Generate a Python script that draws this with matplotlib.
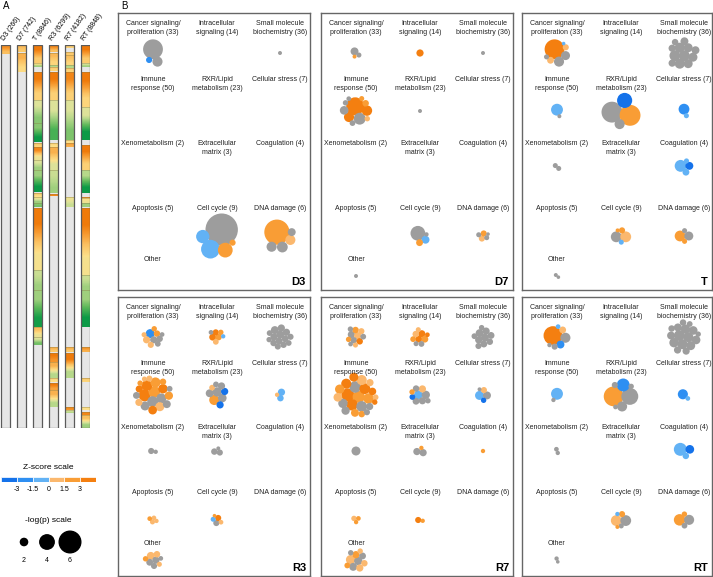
import numpy as np
import matplotlib
matplotlib.use('Agg')
import matplotlib.pyplot as plt
from matplotlib.patches import Circle, Rectangle
from matplotlib.colors import LinearSegmentedColormap

W, H = 713, 577
FONT = ['Liberation Sans Narrow', 'Liberation Sans', 'DejaVu Sans']
plt.rcParams['font.family'] = FONT

# ---------------- Panel A: ranked pathway columns ----------------
col_labels = ['D3 (266)', 'D7 (742)', 'T (8846)', 'R3 (6299)', 'R7 (4182)', 'RT (8848)']
heat_len = 383
# coloured runs: (start rank, end rank, value at start, value at end); 1 = orange, -1 = green, rest grey
heat_D3 = [(0, 9, 0.85, 0.5)]
heat_D7 = [(0, 7, 0.55, 0.4), (8, 27, 0.6, 0.25)]
heat_T = [(0, 18, 1.0, 0.4), (18, 22, 0.2, -0.3), (27, 55, 1.0, 0.35), (55, 78, 0.0, -0.4),
          (78, 97, -0.4, -1.0), (98, 102, 0.45, 0.3), (102, 115, 0.9, 0.1), (115, 125, 0.0, -0.3),
          (125, 147, -0.3, -1.0), (148, 152, 0.4, 0.2), (152, 158, 0.1, -0.3), (158, 162, -0.4, -0.5),
          (163, 225, 1.0, 0.15), (225, 245, -0.1, -0.3), (245, 282, -0.3, -0.95),
          (282, 292, 0.5, 0.1), (292, 300, 0.0, -0.5)]
heat_R3 = [(0, 7, 0.9, 0.5), (8, 20, 0.55, 0.3), (20, 22, -0.2, -0.2), (22, 26, 0.4, 0.3),
           (27, 55, 1.0, 0.35), (55, 95, 0.0, -0.7), (98, 102, 0.3, 0.2), (102, 125, 0.6, 0.0),
           (125, 148, -0.1, -0.3), (149, 151, 0.9, 0.9), (302, 307, 0.6, 0.4), (308, 317, 1.0, 0.8),
           (317, 333, 0.6, -0.2), (333, 337, 0.3, 0.2), (338, 345, 1.0, 0.7), (345, 362, 0.6, -0.2)]
heat_R7 = [(0, 3, 0.4, 0.35), (7, 10, 0.45, 0.4), (10, 20, 0.5, 0.3), (20, 23, -0.2, -0.2),
           (23, 27, 0.4, 0.3), (27, 55, 0.9, 0.35), (55, 95, 0.0, -0.45), (95, 98, 0.2, 0.2),
           (98, 102, 0.7, 0.6), (152, 162, 0.1, -0.1), (302, 307, 0.6, 0.4), (308, 333, 1.0, -0.2),
           (362, 365, 0.9, 0.8), (365, 368, 0.0, -0.2)]
heat_RT = [(0, 18, 1.0, 0.4), (18, 22, 0.0, -0.3), (27, 62, 1.0, 0.3), (62, 95, 0.0, -1.0),
           (100, 125, 1.0, 0.35), (125, 148, -0.2, -1.0), (152, 153, 0.9, 0.9), (153, 158, 0.2, 0.1),
           (158, 162, -0.3, -0.3), (163, 230, 1.0, 0.15), (230, 245, -0.1, -0.3),
           (245, 282, -0.3, -1.0), (302, 307, 0.8, 0.6), (333, 337, 0.4, 0.3),
           (362, 365, 0.2, 0.2), (367, 370, 0.9, 0.9), (370, 383, 0.5, -0.3)]
heat_cols = [heat_D3, heat_D7, heat_T, heat_R3, heat_R7, heat_RT]

heat_cmap = LinearSegmentedColormap.from_list('og', [
    (0.0, '#0b9a46'), (0.2, '#5cb85a'), (0.4, '#b6d88a'), (0.5, '#dde39a'),
    (0.6, '#fde08a'), (0.75, '#fbc060'), (0.88, '#f79a30'), (1.0, '#ef7a0a')])

# ---------------- Panel B: pathway clusters ----------------
categories = ['Cancer signaling/\nproliferation (33)', 'Intracellular\nsignaling (14)',
              'Small molecule\nbiochemistry (36)', 'Immune\nresponse (50)',
              'RXR/Lipid\nmetabolism (23)', 'Cellular stress (7)', 'Xenometabolism (2)',
              'Extracellular\nmatrix (3)', 'Coagulation (4)', 'Apoptosis (5)', 'Cell cycle (9)',
              'DNA damage (6)', 'Other']
panel_names = ['D3', 'D7', 'T', 'R3', 'R7', 'RT']

z_bounds = [-4.5, -3, -1.5, 0, 1.5, 3, 4.5]
z_colors = ['#1472ea', '#2e8ff2', '#62b2f5', '#fbb86e', '#f99d35', '#f47f10']
grey = '#9d9d9d'
logp_legend = [2, 4, 6]

# bubbles per category: (z-score or None, -log(p))
N = None
bub_D3 = [[(N, 5.5), (N, 2.8), (-2.0, 1.7)], [], [(N, 1.1)],
          [], [], [],
          [], [], [],
          [], [(N, 9.0), (-1.0, 5.2), (-1.0, 3.7), (2.5, 4.1), (2.5, 1.7)],
          [(2.0, 7.0), (1.0, 2.8), (N, 3.0), (N, 2.8), (N, 2.2)],
          []]
bub_D7 = [[(N, 2.2), (N, 1.4), (2.0, 1.1)], [(3.5, 2.0)], [(N, 1.1)],
          [(3.5, 5.0), (3.5, 2.8), (N, 3.3), (3.5, 2.9), (N, 2.4), (2.0, 1.8), (N, 1.6),
           (1.0, 1.5), (N, 1.5), (2.5, 1.4), (N, 1.3)],
          [(N, 1.1)], [],
          [], [], [],
          [], [(N, 4.1), (-1.0, 2.2), (2.5, 1.9), (N, 1.2)],
          [(1.0, 1.7), (N, 1.4), (N, 1.4), (2.5, 1.7), (N, 1.0)],
          [(N, 1.1)]]
bub_T = [[(3.5, 5.5), (N, 2.8), (N, 2.5), (1.0, 1.9), (1.0, 1.7), (N, 1.4), (-1.0, 1.0)], [],
         [(N, 3.0), (N, 3.0), (N, 2.8), (N, 2.8), (N, 2.5), (N, 2.5), (N, 2.5), (N, 2.2),
          (N, 2.2), (N, 2.0), (N, 2.0), (N, 1.8)],
         [(-1.0, 3.3), (N, 1.1)],
         [(N, 5.8), (2.5, 5.8), (-3.5, 4.2), (N, 2.8)],
         [(-2.5, 3.0), (-1.0, 1.4)],
         [(N, 1.4), (N, 1.4)], [],
         [(-1.0, 3.3), (-3.5, 2.2), (-1.0, 1.9), (-1.0, 1.4)],
         [], [(N, 3.0), (1.0, 3.0), (2.5, 1.7), (-1.0, 1.4), (2.5, 1.1)],
         [(2.5, 3.0), (N, 2.5), (2.5, 1.4), (N, 1.4)],
         [(N, 1.1), (N, 1.0)]]
bub_R3 = [[(-2.5, 2.5), (1.0, 2.0), (N, 2.0), (2.5, 1.8), (N, 1.8), (1.0, 1.7), (N, 1.6),
           (2.0, 1.5), (1.0, 1.4), (N, 1.3)],
          [(3.5, 1.9), (2.5, 1.8), (3.5, 1.7), (1.0, 1.6), (N, 1.3), (-1.0, 1.2), (2.5, 1.5)],
          [(N, 2.2), (N, 2.2), (N, 2.0), (N, 2.0), (N, 2.0), (N, 1.9), (N, 1.9), (N, 1.8),
           (N, 1.8), (N, 1.7), (N, 1.7), (N, 1.6), (N, 1.6), (N, 1.5)],
          [(3.5, 3.3), (2.5, 3.2), (N, 3.0), (3.5, 3.0), (N, 2.8), (2.5, 2.8), (3.5, 2.6),
           (1.0, 2.5), (N, 2.5), (3.5, 2.4), (2.5, 2.3), (N, 2.2), (1.0, 2.0), (3.5, 2.0),
           (N, 1.9), (2.5, 1.8), (1.0, 1.7), (N, 1.6), (2.5, 1.5), (1.0, 1.4)],
          [(2.0, 2.8), (N, 2.6), (N, 2.4), (-3.5, 2.0), (-3.5, 2.0), (N, 2.2), (N, 2.0),
           (1.0, 1.6), (N, 1.6)],
          [(-1.0, 2.0), (-1.0, 1.8), (1.0, 1.2)],
          [(N, 1.7), (N, 1.2)], [(N, 1.8), (N, 1.7), (N, 1.1)], [],
          [(1.0, 1.4), (1.0, 1.3), (1.5, 1.3), (1.0, 1.2)],
          [(N, 1.7), (3.5, 1.7), (-1.0, 1.4), (1.0, 1.3), (2.5, 1.0)],
          [],
          [(N, 2.0), (1.0, 2.2), (N, 1.9), (1.0, 1.8), (N, 1.7), (2.0, 1.5), (1.0, 1.4), (N, 1.3)]]
bub_R7 = [[(N, 2.0), (1.0, 2.0), (2.5, 1.8), (N, 1.8), (3.5, 1.8), (1.0, 1.7), (N, 1.6),
           (2.5, 1.5), (N, 1.5), (1.0, 1.4), (N, 1.3)],
          [(3.5, 2.0), (3.5, 1.9), (2.5, 1.9), (1.0, 1.8), (N, 1.6), (2.5, 1.6), (N, 1.4),
           (1.0, 1.4), (3.5, 1.3)],
          [(N, 2.2), (N, 2.2), (N, 2.0), (N, 2.0), (N, 1.9), (N, 1.9), (N, 1.8), (N, 1.7),
           (N, 1.6), (N, 1.5)],
          [(3.5, 3.6), (2.5, 3.4), (N, 3.2), (3.5, 3.2), (3.5, 3.0), (N, 3.0), (2.5, 2.9),
           (1.0, 2.8), (3.5, 2.8), (N, 2.6), (2.5, 2.6), (3.5, 2.5), (1.0, 2.4), (N, 2.3),
           (2.5, 2.2), (3.5, 2.1), (N, 2.0), (1.0, 2.0), (2.5, 1.8), (N, 1.7), (1.0, 1.6),
           (3.5, 1.5)],
          [(-1.0, 2.4), (N, 2.3), (1.0, 2.0), (N, 2.0), (N, 1.9), (N, 1.8), (-3.5, 1.6),
           (2.5, 1.5), (N, 1.5)],
          [(-1.0, 2.5), (N, 2.2), (-3.5, 1.5), (1.0, 1.7), (N, 1.1)],
          [(N, 2.5)], [(N, 2.0), (N, 2.0), (2.5, 1.2)], [(2.5, 1.2)],
          [(1.0, 1.5), (1.5, 1.3), (2.5, 1.2)],
          [(3.5, 1.7), (1.5, 1.2)],
          [],
          [(1.0, 2.6), (N, 2.3), (N, 2.2), (2.5, 2.0), (1.0, 2.0), (N, 1.9), (1.0, 1.8),
           (2.5, 1.6), (N, 1.5), (1.0, 1.5)]]
bub_RT = [[(3.5, 5.2), (N, 2.8), (-2.5, 2.2), (1.0, 1.9), (N, 1.7), (-1.0, 1.3), (N, 1.2)], [],
          [(N, 3.0), (N, 2.8), (N, 2.8), (N, 2.6), (N, 2.6), (N, 2.5), (N, 2.4), (N, 2.4),
           (N, 2.2), (N, 2.2), (N, 2.0), (N, 2.0), (N, 1.8), (N, 1.8), (N, 1.6), (N, 1.5)],
          [(-1.0, 3.3), (N, 1.2)],
          [(2.5, 5.5), (N, 4.7), (-2.5, 3.6), (N, 2.8), (N, 1.7), (N, 1.5), (N, 1.3)],
          [(-2.5, 2.8), (-1.0, 1.3)],
          [(N, 1.3), (N, 1.2)], [],
          [(-1.0, 3.6), (-3.5, 2.4), (-1.0, 1.8)],
          [], [(1.0, 3.0), (N, 3.0), (2.5, 1.7), (-1.0, 1.2), (2.5, 1.1), (N, 1.4)],
          [(2.5, 3.2), (N, 2.8), (2.5, 1.5), (N, 1.6)],
          [(N, 1.2), (N, 1.0)]]
bubbles = [bub_D3, bub_D7, bub_T, bub_R3, bub_R7, bub_RT]


def radius(logp):
    return 1.8 * np.asarray(logp, float)


def zcolor(z):
    if z is None:
        return grey
    i = np.searchsorted(z_bounds, z, side='right') - 1
    return z_colors[int(np.clip(i, 0, 5))]


def pack(radii, squeeze=0.88):
    """greedy packing: biggest first, each next bubble touching one already placed"""
    radii = np.asarray(radii, float)
    order = np.argsort(-radii, kind='stable')
    pos = np.zeros((len(radii), 2))
    done = []
    angles = np.linspace(0, 2 * np.pi, 36, endpoint=False)
    for k in order:
        r = radii[k]
        if not done:
            done.append(k)
            continue
        cen = np.average(pos[done], axis=0, weights=radii[done] ** 2)
        best, best_d = pos[done[0]], np.inf
        for j in done:
            for a in angles:
                c = pos[j] + (radii[j] + r) * squeeze * np.array([np.cos(a), np.sin(a)])
                gap = np.hypot(*(pos[done] - c).T) - (radii[done] + r) * squeeze
                if gap.min() < -1e-6:
                    continue
                d = np.hypot(*(c - cen))
                if d < best_d:
                    best, best_d = c, d
        pos[k] = best
        done.append(k)
    lo = (pos - radii[:, None]).min(0)
    hi = (pos + radii[:, None]).max(0)
    return pos - (lo + hi) / 2, order


def px_axes(fig, x0, y0, x1, y1):
    ax = fig.add_axes([x0 / W, 1 - y1 / H, (x1 - x0) / W, (y1 - y0) / H])
    ax.set_xlim(0, x1 - x0)
    ax.set_ylim(y1 - y0, 0)
    return ax


fig = plt.figure(figsize=(W / 100, H / 100), dpi=100)
fig.text(3 / W, 1 - 6 / H, 'A', fontsize=7, va='center')
fig.text(121 / W, 1 - 6 / H, 'B', fontsize=7, va='center')

# ---- panel A ----
axA = px_axes(fig, 0, 45, 90, 428)
for i, (lab, runs) in enumerate(zip(col_labels, heat_cols)):
    x0 = 16 * i + 0.5
    axA.add_patch(Rectangle((x0, 0), 9, heat_len, facecolor='#e6e6e6', edgecolor='none', zorder=0))
    for (s, e, v0, v1) in runs:
        axA.imshow([[v0], [v1]], extent=(x0, x0 + 9, e, s), cmap=heat_cmap, vmin=-1, vmax=1,
                   interpolation='bilinear', aspect='auto', zorder=1)
        if s > 0:
            axA.plot([x0, x0 + 9], [s, s], color='#8c7d45', lw=0.4, alpha=0.7, zorder=2)
    axA.add_patch(Rectangle((x0, 0), 9, heat_len, facecolor='none', edgecolor='#5a5a5a', lw=0.9,
                            zorder=3))
    axA.text(x0 + 6, -3, lab, rotation=55, rotation_mode='anchor', ha='left', va='bottom',
             fontsize=5, clip_on=False)
axA.set_xlim(0, 90)
axA.set_ylim(heat_len, 0)
axA.axis('off')

# Z-score legend
axZ = fig.add_axes([1 / W, 1 - 482 / H, 95 / W, 5 / H])
axZ.bar(z_bounds[:-1], 1, width=np.diff(z_bounds), align='edge', color=z_colors,
        edgecolor='white', lw=0.5)
axZ.set_xlim(z_bounds[0], z_bounds[-1])
axZ.set_ylim(0, 1)
axZ.set_xticks([-3, -1.5, 0, 1.5, 3])
axZ.set_xticklabels(['-3', '-1.5', '0', '1.5', '3'], fontsize=5)
axZ.tick_params(length=0, pad=3)
axZ.set_yticks([])
for sp in axZ.spines.values():
    sp.set_visible(False)
axZ.set_title('Z-score scale', fontsize=6, pad=6)

# -log(p) legend
axP = px_axes(fig, 0, 510, 96, 570)
axP.set_aspect('equal')
for i, v in enumerate(logp_legend):
    cx = 24 + 23 * i
    axP.add_patch(Circle((cx, 32), radius(v), color='black'))
    axP.text(cx, 50, str(v), ha='center', va='center', fontsize=5)
axP.text(48, 11, '-log(p) scale', ha='center', va='center', fontsize=6)
axP.axis('off')

# ---- panel B ----
boxes_x = [(118, 310), (321, 513), (522, 712)]
boxes_y = [(13, 290), (297, 576)]
col_x = [35, 99, 162]
label_y = [11, 67, 131, 196, 247]
bubble_y = [40, 98, 154, 223, 263]

for p, name in enumerate(panel_names):
    bx0, bx1 = boxes_x[p % 3]
    by0, by1 = boxes_y[p // 3]
    ax = px_axes(fig, bx0, by0, bx1, by1)
    ax.set_xticks([])
    ax.set_yticks([])
    for sp in ax.spines.values():
        sp.set_color('#666666')
        sp.set_linewidth(1.0)
    for c, cat in enumerate(categories):
        row, col = divmod(c, 3)
        cx = col_x[col]
        ax.text(cx, label_y[row] - 4, cat, ha='center', va='top', fontsize=5,
                linespacing=1.3, color='#222222')
        items = bubbles[p][c]
        if not items:
            continue
        rr = radius([b[1] for b in items])
        pos, order = pack(rr)
        for k in order:
            ax.add_patch(Circle((cx + pos[k, 0], bubble_y[row] + pos[k, 1]), rr[k],
                                facecolor=zcolor(items[k][0]), edgecolor='none'))
    ax.text(bx1 - bx0 - 4, by1 - by0 - 3, name, ha='right', va='bottom', fontsize=8,
            fontweight='bold')

fig.savefig('out.png', dpi=100)
